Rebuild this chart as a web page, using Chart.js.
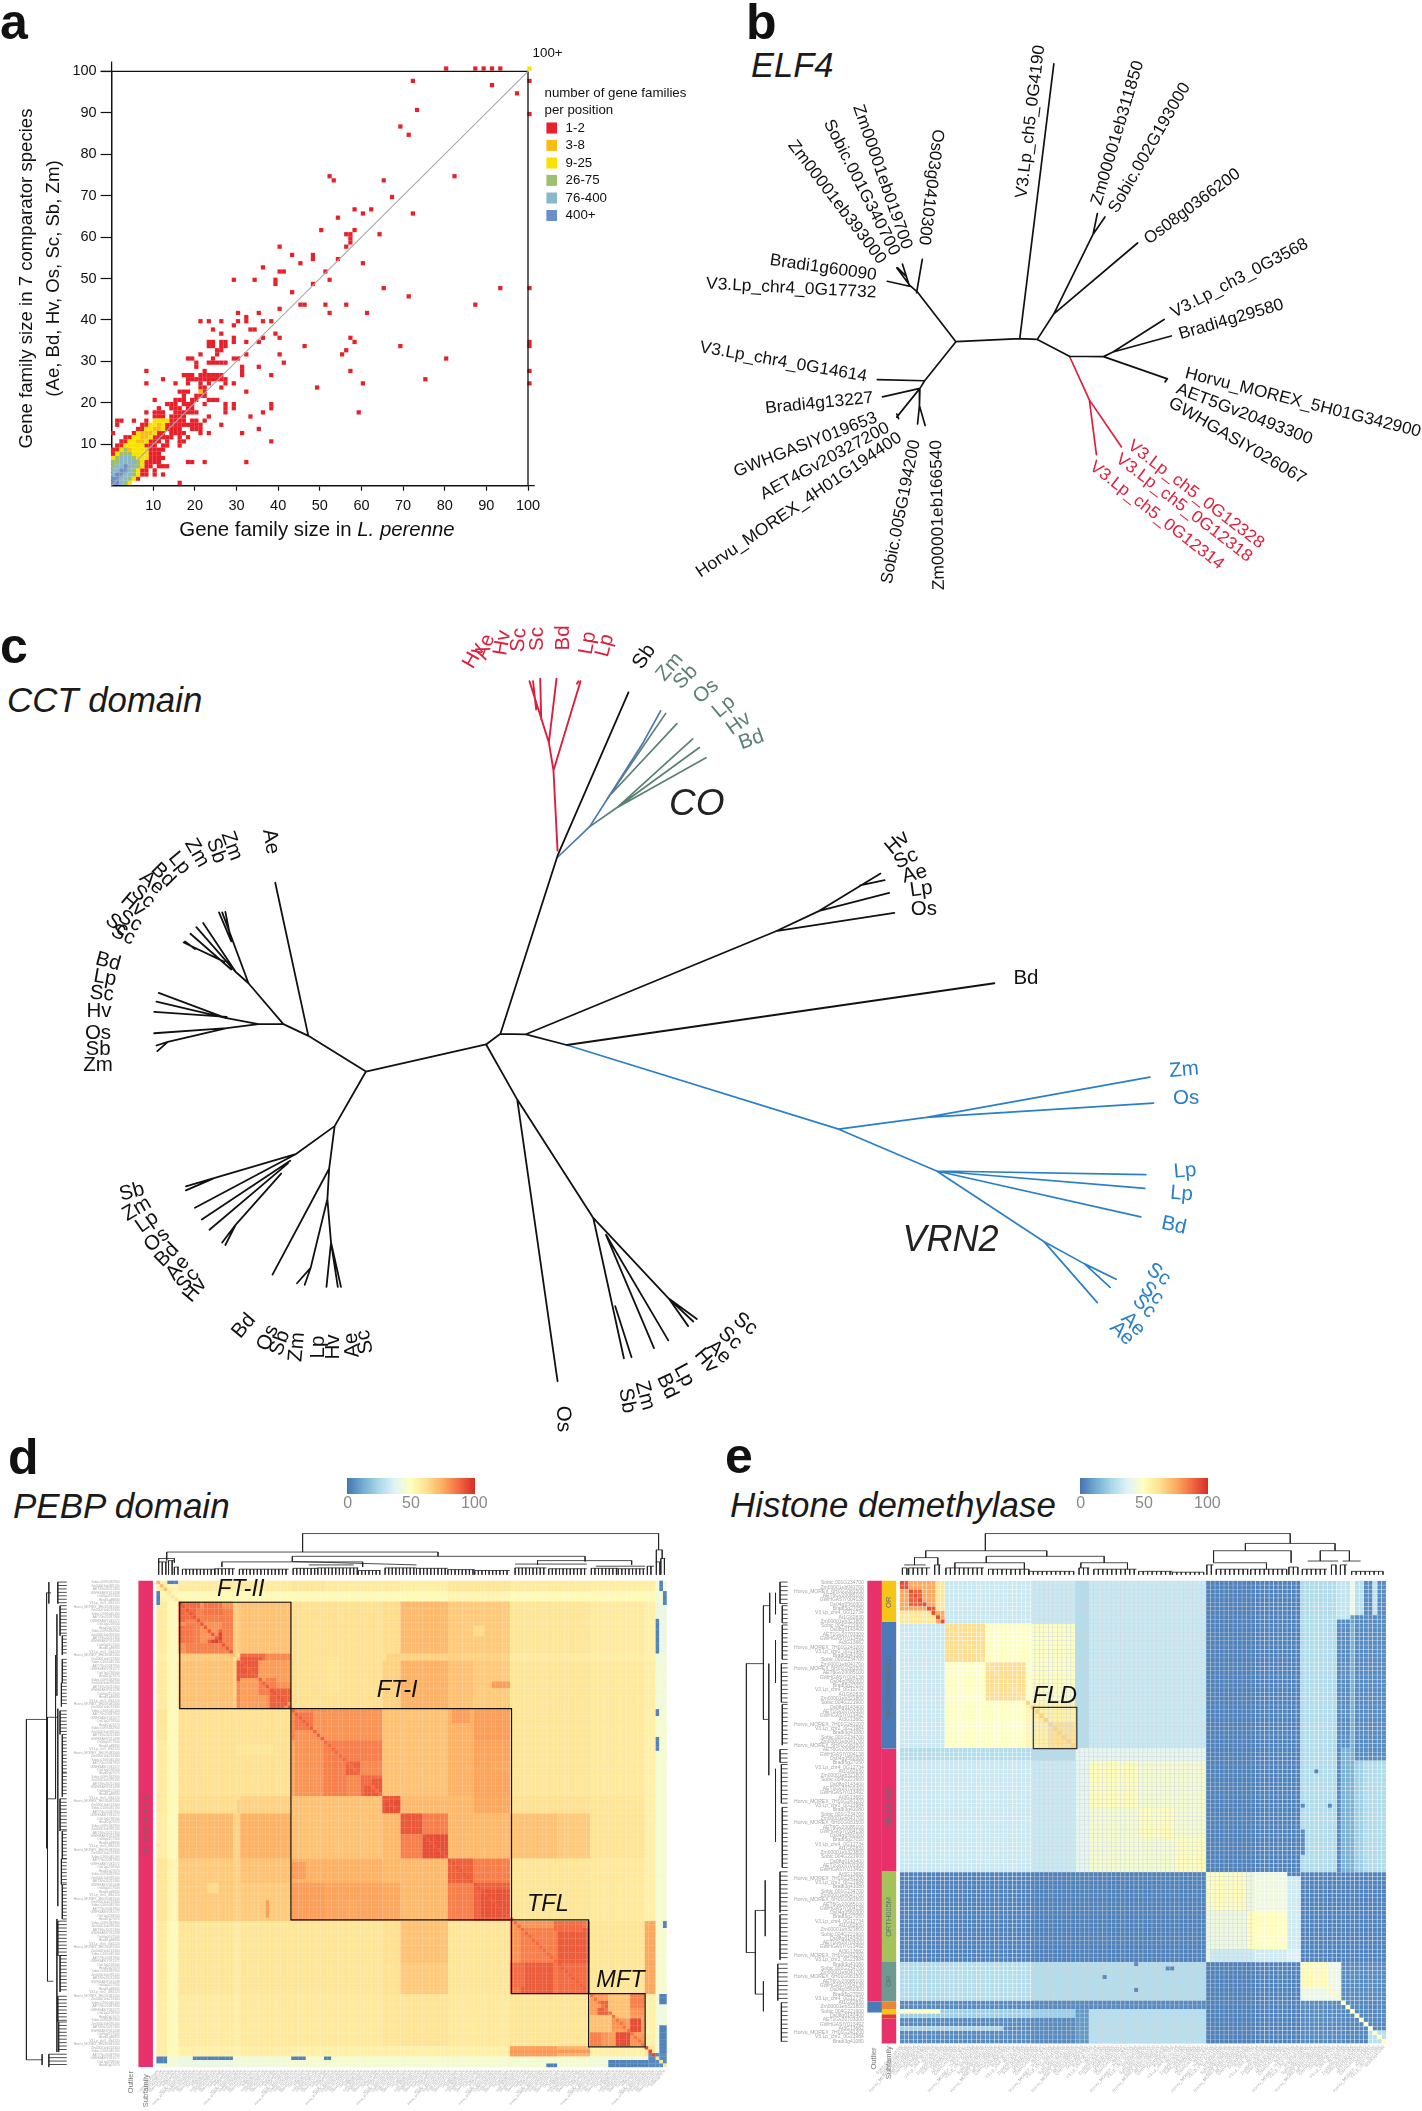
<!DOCTYPE html>
<html><head><meta charset="utf-8">
<script src="https://cdn.jsdelivr.net/npm/chart.js@4"></script>
<style>
html,body{margin:0;padding:0;background:#fff;width:1422px;height:2111px;overflow:hidden;font-family:"Liberation Sans",Arial,sans-serif}
canvas{position:absolute}
.t{position:absolute;white-space:nowrap;line-height:1;transform:translateY(-50%);color:#1a1a1a}
.i{font-style:italic}.l{font-weight:bold;color:#111}
</style></head><body>
<div class="t l" style="left:0px;top:22px;font-size:50px">a</div>
<div class="t l" style="left:746px;top:22px;font-size:50px">b</div>
<div class="t l" style="left:0px;top:646px;font-size:50px">c</div>
<div class="t l" style="left:8px;top:1457px;font-size:50px">d</div>
<div class="t l" style="left:725px;top:1456px;font-size:50px">e</div>
<div class="t i" style="left:751px;top:65px;font-size:34.5px">ELF4</div>
<div class="t i" style="left:7px;top:700px;font-size:34.8px">CCT domain</div>
<div class="t i" style="left:13px;top:1505px;font-size:35px">PEBP domain</div>
<div class="t i" style="left:730px;top:1505px;font-size:34.9px">Histone demethylase</div>
<canvas id="ca" width="720" height="600" style="left:0;top:0"></canvas>
<canvas id="cb" width="742" height="600" style="left:680px;top:0"></canvas>
<canvas id="cc" width="1422" height="830" style="left:0;top:620px"></canvas>
<canvas id="cd" width="711" height="681" style="left:0;top:1430px"></canvas>
<canvas id="ce" width="711" height="681" style="left:711px;top:1430px"></canvas>
<canvas id="cbd" width="168" height="40" style="left:327px;top:1478px"></canvas>
<canvas id="cbe" width="168" height="40" style="left:1060px;top:1478px"></canvas>
<script>
const F='"Liberation Sans",Arial,sans-serif';
/* ---------- panel a: families per position, rows [y,[x...]] ---------- */
const redCells=[[100,[80,87,89,91,93]],[97,[72,100]],[96,[91]],[94,[97]],[90,[73]],[89,[100]],[86,[69]],[84,[71]],[74,[52,82]],[73,[53,65]],[69,[67]],[66,[58,62]],[65,[60,72]],[64,[54]],[61,[50,58]],[60,[56,57,64]],[59,[57]],[58,[57]],[57,[40,56]],[55,[43,48]],[54,[48,54]],[53,[45,60]],[52,[36]],[51,[40,41,51]],[49,[29,34,39,52]],[48,[39,48]],[47,[65,93,100]],[46,[43]],[45,[71]],[43,[45,46,51,56,87]],[42,[40]],[41,[30,35,52,61]],[40,[32]],[39,[21,23,26,30,32,36,38]],[38,[29]],[37,[24,33,34]],[36,[26,39]],[35,[29,36,40,57]],[34,[23,24,26,27,29,32,35,58,100]],[33,[23,24,26,27,46,69,100]],[32,[25,26,56]],[31,[21,25,32,40,55]],[30,[18,19,24,29,30,80]],[29,[20,23,24,25,26,27,41]],[28,[20,31,35]],[27,[8,22,31,57,100]],[26,[17,18,19,21,22,23,24,25,26,31,38]],[25,[12,18,19,20,21,22,23,24,25,26,27,75]],[24,[8,15,18,21,23,27,29,60,100]],[23,[21,22,26,49]],[22,[16,17,18,22,32]],[21,[17,20,21,22]],[20,[10,15,16,17,19,20,23,24,25]],[19,[13,14,15,17,18,19,22,27,29,38]],[18,[11,14,15,16,18,19,27,29,38]],[17,[8,10,11,12,15,16,17,18,19,20,27,36,59]],[16,[10,11,12,14,15,16,17,23,33]],[15,[1,2,5,8,14,15,16,17,19,20,22]],[14,[1,7,8,13,14,15,16,17,18,19,20,21,26]],[13,[6,7,13,14,15,16,19,20,21,35]],[12,[0,5,11,12,14,15,16,17,21,23,31]],[11,[3,4,10,11,12,13,14,16,18]],[10,[2,3,9,10,11,13,16,17,38]],[9,[1,2,8,9,10,12,13,16]],[8,[0,1,9,10,11,12]],[7,[0,9,10,11]],[6,[9,10,11,12]],[5,[8,9,10,11,18,19,22,32]],[4,[8,9,11,12,13]],[3,[7,8,10]],[2,[7,8,10,12]],[1,[6]],[0,[16]]];
const orangeCells=[[14,[11]],[13,[10,11]],[12,[7,8,9]],[11,[7,8]],[10,[6,7]],[8,[4]],[22,[21]]];
const yellowCells=[[100,[100]],[15,[10,11,12,13]],[14,[9,10,12]],[13,[8,9,12]],[12,[6,10]],[11,[5,6,9]],[10,[4,5,8]],[9,[3,4,5,6,7]],[8,[2,5,6,7,8]],[7,[1,5,6,7,8]],[6,[0,6,7,8]],[5,[7]],[4,[7]],[3,[6]],[2,[6]],[1,[5]],[0,[3,4]]];
const greenCells=[[8,[3]],[7,[2,3,4]],[6,[1,5]],[5,[0,1,6]],[4,[0,6]],[3,[5]],[2,[5]],[1,[4]],[0,[3]]];
const tealCells=[[6,[2,3,4]],[5,[2,3,4,5]],[4,[1,2,4,5]],[3,[0,1,4]],[2,[0,3,4]],[1,[2,3]],[0,[2]]];
const blueCells=[[4,[3]],[3,[2,3]],[2,[1,2]],[1,[0,1]],[0,[0,1]]];
const legendLabels=['1-2','3-8','9-25','26-75','76-400','400+'];
const legendColors=['#e8202a','#f7bd14','#f7e300','#9cc070','#8bb8c8','#6c8ecb'];
const axisTicks=[10,20,30,40,50,60,70,80,90,100];

/* ---------- panel b tree: branches as [x0,y0,x1,y1] ---------- */
const elfBlack=[[583,893,718,885],[718,885,755,887],[755,887,823,931],[823,931,895,932],[583,893,503,765],[500,765,512,678],[503,765,485,745],[485,745,458,700],[485,748,470,690],[478,722,460,700],[485,748,438,735],[583,893,517,995],[517,995,417,992],[517,995,507,1015],[507,1015,428,1037],[507,1015,458,1090],[458,1082,462,1094],[507,1015,506,1060],[506,1060,502,1108],[506,1060,518,1112],[718,885,790,167],[755,887,790,820],[790,820,873,612],[873,612,882,558],[873,612,898,567],[790,820,967,635],[895,932,915,920],[915,920,1023,835],[915,920,1038,878],[895,932,1030,990],[1030,990,1018,985],[1030,990,1025,998]];
const elfRed=[[823,931,865,1045],[865,1045,880,1188],[865,1045,933,1168]];
const elfLabels=[['V3.Lp_ch5_0G4190',722,518,760,118],['Zm00001eb311850',880,535,970,160],['Sobic.002G193000',915,553,1070,220],['Os08g0366200',985,630,1180,450],['V3.Lp_ch3_0G3568',1040,820,1325,635],['Bradi4g29580',1055,875,1275,795],['Horvu_MOREX_5H01G342900',1068,975,1565,1130],['AET5Gv20493300',1050,1015,1335,1150],['GWHGASIY026067',1035,1050,1320,1255],['V3.Lp_chr4_0G17732',55,742,415,765],['Bradi1g60090',190,680,415,720],['V3.Lp_chr4_0G14614',42,908,395,985],['Bradi4g13227',180,1068,408,1040],['GWHGASIY019653',115,1235,415,1090],['AET4Gv20327200',172,1295,440,1115],['Horvu_MOREX_4H01G194400',38,1500,465,1140],['Sobic.005G194200',437,1525,497,1150],['Zm00001eb166540',548,1542,542,1150],['Zm00001eb393000',235,372,428,685],['Sobic.001G340700',312,315,455,665],['Zm00001eb019700',375,275,480,650],['Os03g0410300',545,338,515,640]];
const elfRedLabels=[['V3.Lp_ch5_0G12328',950,1160,1230,1425],['V3.Lp_ch5_0G12318',925,1195,1205,1460],['V3.Lp_ch5_0G12314',870,1215,1145,1480]];

/* ---------- panel c tree ---------- */
const cctLeft=[[807,885,1072,832],[807,885,680,815],[680,815,625,792],[680,815,607,515],[625,792,570,792],[570,792,497,780],[497,780,350,731],[497,780,345,748],[500,778,340,768],[570,792,500,800],[500,800,340,810],[500,800,370,827],[370,827,345,834],[370,827,347,845],[625,792,548,712],[548,712,490,573],[510,630,483,573],[510,630,497,572],[548,712,520,690],[520,690,448,594],[520,690,433,602],[510,685,420,615],[495,670,405,632],[430,645,408,630],[807,885,738,992],[738,992,652,1047],[652,1047,410,1110],[470,1095,410,1118],[652,1047,430,1152],[640,1060,445,1175],[635,1065,462,1195],[620,1085,520,1185],[520,1185,490,1220],[520,1185,497,1225],[738,992,726,1075],[726,1075,601,1283],[726,1075,722,1135],[722,1135,685,1270],[685,1270,655,1300],[685,1270,672,1303],[722,1135,730,1220],[730,1220,720,1307],[730,1220,745,1307],[730,1220,752,1307]];
const cctRight=[[12,832,40,811],[40,811,152,462],[152,462,291,142],[40,811,90,812],[90,812,170,833],[90,812,580,610],[580,610,665,570],[665,570,785,497],[745,520,793,510],[665,570,802,535],[580,610,812,574],[170,833,1008,712],[12,832,73,940],[73,940,152,1492],[73,940,222,1172],[222,1172,282,1447],[265,1345,297,1445],[247,1205,341,1427],[247,1205,369,1412],[222,1172,370,1330],[370,1330,408,1384],[370,1330,418,1375],[370,1330,425,1370]];
const cctRedEdges=[[152,452,144,295],[144,295,135,240],[135,240,97,120],[110,175,104,120],[120,195,118,115],[135,240,150,115],[144,295,197,120],[190,125,193,120]];
const cctSteel=[[152,465,215,405],[215,405,320,240],[320,240,354,178]];
const cctGreen=[[250,350,364,183],[258,340,386,203],[215,405,268,368],[268,368,417,233],[268,368,430,250],[268,368,443,270]];
const cctVrn=[[170,833,703,998],[703,998,875,975],[875,975,1313,896],[875,975,1320,947],[703,998,895,1080],[895,1080,1305,1087],[895,1080,1303,1114],[895,1080,1295,1170],[895,1080,1105,1218],[1105,1218,1185,1262],[1185,1262,1247,1292],[1185,1262,1235,1308],[1105,1218,1210,1338]];
const cctRedLabels=[['Hv',474,656,-60],['Ae',485,647,-70],['Hv',502.5,643,-80],['Sc',519,640,-85],['Sc',537,639,-90],['Bd',563,638,-90],['Lp',588,643,-80],['Lp',605,645.5,-75]];
const cctPageLabels=[['Zm',231.7,846,70],['Sb',216,850.7,70],['Zm',196.7,853,60],['Lp',179.3,863,50],['Bd',163,875,45],['Ae',151.7,883,40],['Sc',143,896.7,40],['Hv',133,905,40],['Sc',130,921,30],['Sc',117,925,40],['Sc',123,935,25],['Ae',270.7,841.7,80],['Bd',108,961.7,15],['Lp',105,978,10],['Sc',101.7,994,5],['Hv',99,1011,0],['Os',98,1033,0],['Sb',98,1049,0],['Zm',98,1065,0],['Sb',132,1192,-15],['Zm',137,1209,-30],['Lp',147,1222,-35],['Os',157,1240,-40],['Bd',167,1255,-45],['Ae',178,1268,-50],['Sc',188,1280,-50],['Hv',195,1290,-50],['Bd',244,1326,-50],['Os',268,1338,-65],['Sb',280,1343,-70],['Zm',297,1347,-85],['Lp',318,1347,-90],['Hv',333,1347,-90],['Ae',352,1345,-95],['Sc',365,1342,-100]];
const cctBlackLabels=[['Sb',322,72,-55],['Hv',818,437,-40],['Sc',835,468,-25],['Ae',852,498,-15],['Lp',865,528,-8],['Os',870,568,0],['Bd',1070,703,0],['Sc',520,1380,35],['Sc',490,1408,40],['Ae',468,1435,42],['Hv',443,1452,50],['Lp',400,1480,62],['Bd',367,1502,65],['Zm',323,1520,75],['Sb',288,1530,80],['Os',163,1566,88]];
const cctGreenLabels=[['Zm',372,92,-50],['Sb',403,112,-45],['Os',443,140,-40],['Lp',478,170,-40],['Hv',507,203,-35],['Bd',532,235,-20]];
const cctBlueLabels=[['Zm',1380,882,-5],['Os',1384,938,0],['Lp',1382,1080,-5],['Lp',1375,1125,5],['Bd',1360,1187,12],['Sc',1330,1283,35],['Sc',1317,1320,40],['Sc',1302,1345,45],['Ae',1280,1380,45],['Ae',1258,1398,45]];

/* ---------- colour ramp of both heat maps ---------- */
const rampStops=[[0,[69,117,180]],[12.5,[116,173,209]],[25,[171,217,233]],[37.5,[224,243,248]],[50,[255,255,191]],[62.5,[254,224,144]],[75,[253,174,97]],[87.5,[244,109,67]],[100,[215,48,39]]];
function ramp(v){for(let i=1;i<rampStops.length;i++){if(v<=rampStops[i][0]){const a=rampStops[i-1],b=rampStops[i],t=(v-a[0])/(b[0]-a[0]);return 'rgb('+a[1].map((c,k)=>Math.round(c+(b[1][k]-c)*t)).join(',')+')';}}return 'rgb(215,48,39)';}
const colorbarTicks=Array.from({length:101},(_,i)=>i);

/* ---------- panel d heat map: block edges and block identities ---------- */
const pebpEdges=[340,366,392,512,525,580,640,712,847,885,932,990,1045,1132,1232,1304,1430,1450,1478];
const pebpTable=[
[56,54,58,56,58,58,60,58,58,57,57,60,60,58,58,57,57,45],
[54,52,52,52,52,52,52,52,52,52,54,54,52,52,52,52,45],
[80,68,70,70,62,62,63,72,72,68,68,60,60,58,56,42],
[62,66,66,62,62,62,66,66,66,66,58,58,57,55,44],
[84,78,62,62,66,74,74,70,68,60,60,59,57,44],
[80,62,62,66,74,74,70,68,60,60,59,57,44],
[82,76,70,70,70,74,78,60,60,59,56,46],
[82,70,70,70,74,77,60,60,59,56,46],
[92,72,72,72,76,62,62,60,56,46],
[88,84,72,72,70,68,61,56,46],
[90,72,72,70,68,61,56,46],
[90,84,60,60,59,56,46],
[90,60,60,59,56,46],
[84,86,60,78,46],
[88,60,74,46],
[80,56,44],
[60,44],
[42]];
const pebpDiagonal=[72,60,92,70,90,92,90,88,92,92,92,92,92,88,90,86,95,60];
const pebpPatches=[[392,430,392,440,88],[430,512,405,440,84],[392,425,445,490,86],[480,505,455,490,90],[480,495,462,480,96],[435,512,490,512,84],[525,580,515,570,88],[530,575,520,560,92],[580,640,515,570,82],[525,580,570,640,78],[580,610,570,600,84],[600,640,590,625,90],[672,702,650,680,94],[650,710,650,690,86],[712,847,645,690,80],[712,847,690,740,84],[645,712,690,845,80],[712,760,745,845,84],[765,795,765,795,90],[795,847,795,845,88],[820,840,800,840,92],[850,882,850,885,94],[887,930,890,930,92],[935,985,940,990,94],[1060,1130,1060,1130,93],[1232,1304,1150,1230,91],[1132,1232,1132,1150,80],[1132,1160,1230,1290,88],[1304,1350,1304,1350,78],[1320,1350,1335,1365,90],[1350,1400,1385,1428,78],[1365,1395,1395,1425,94],[1395,1428,1305,1335,84],[1350,1395,1305,1360,70],[1045,1070,450,475,64],[720,745,520,600,60],[850,885,515,570,66],[1090,1130,580,590,78],[1000,1040,640,670,78],[1085,1130,760,790,76]];
const pebpBlue=[[366,392,342,352,3],[342,350,370,395,3],[1458,1472,342,370,3],[1450,1460,430,512,3],[1450,1462,705,740,3],[1458,1464,745,845,3],[1452,1465,640,655,3],[1470,1477,370,395,3],[1470,1477,1135,1155,3],[1460,1477,1302,1330,3],[1460,1477,1380,1440,3],[340,365,1453,1470,3],[366,392,1447,1453,3],[425,512,1447,1455,3],[640,672,1447,1458,3],[712,732,1447,1460,3],[750,845,1455,1460,3],[1210,1232,1465,1472,3],[1304,1420,1455,1460,3],[1352,1440,1462,1472,3],[1440,1478,1440,1475,5],[1436,1448,1432,1442,92],[1132,1304,1432,1445,79],[1430,1450,1135,1304,76]];
const pebpBoxes=[[392,392,640,640],[640,640,1132,1132],[1132,1132,1304,1304],[1304,1304,1430,1428]];
const pebpTop=[[666,232,1460,232],[666,232,666,275],[1460,232,1460,270],[363,275,968,275],[363,275,363,295],[968,275,968,285],[643,285,1296,285],[643,285,643,297],[1296,285,1296,297],[486,298,800,298],[486,298,486,310],[800,298,800,310],[643,297,920,305],[1140,303,1300,303],[1190,295,1400,295],[1190,295,1190,305],[1400,295,1400,305],[1320,308,1430,308],[680,305,780,305],[345,290,380,290],[345,290,345,300],[380,290,380,300],[1455,270,1468,270],[1468,270,1468,290],[1455,270,1455,300]];
const pebpTopGroups=[[345,365,298],[367,380,295],[380,390,310],[398,470,315],[470,515,314],[525,635,315],[645,700,313],[700,790,312],[790,840,318],[850,920,312],[920,990,313],[990,1050,316],[1050,1128,318],[1140,1210,312],[1215,1300,314],[1310,1370,313],[1370,1430,314],[1435,1450,308],[1455,1465,298],[1465,1475,290]];
const pebpLeft=[[50,665,50,1458],[50,665,97,665],[50,1458,85,1458],[97,660,97,1275],[97,660,120,660],[97,1275,110,1275],[95,370,95,965],[95,370,105,370],[95,965,97,965],[115,515,115,850],[98,850,115,850],[120,640,120,1100],[118,1130,118,1440],[85,1445,85,1470],[100,345,100,395],[118,420,118,610]];
const pebpLeftGroups=[[345,395,120],[400,470,125],[470,515,130],[525,580,130],[580,635,128],[645,700,125],[700,790,130],[790,845,130],[850,925,125],[925,990,130],[990,1050,128],[1050,1130,130],[1135,1215,120],[1215,1300,125],[1310,1370,120],[1370,1440,122],[1445,1475,100]];
const pebpGenes=['Sobic.009G032900','Zm00001eb391100','AET3Gv20211300','GWHGASIY011438','Os06g0157500','Bradi1g48830','V3.Lp_chr5_0G4120','Horvu_MOREX_3H01G081500','Zm00001eb213300','Sobic.010G045100','AET7Gv20347900','GWHGASIY031572','Os01g0218500','Bradi2g07070'];

/* ---------- panel e heat map ---------- */
const kdmEdgesX=[412,508,603,690,805,835,945,1020,1092,1190,1275,1305,1400,1497];
const kdmEdgesY=[342,438,533,620,733,765,870,945,1018,1115,1200,1230,1320,1420];
const kdmTable=[
[76,32,32,32,27,32,32,32,3,3,3,26,10],
[60,49,49,27,32,32,32,3,3,3,27,14],
[60,49,27,32,32,32,3,3,3,27,14],
[54,27,32,32,32,3,3,3,27,14],
[40,40,40,40,3,3,3,27,18],
[51,46,46,3,3,3,27,22],
[51,46,3,3,3,27,22],
[51,3,3,3,27,22],
[51,43,33,3,3],
[51,33,3,3],
[36,3,3],
[53,5],
[4]];
const kdmDiagonal=[94,62,62,66,40,51,51,51,51,51,36,53,50];
const kdmPatches=[[412,805,1320,1420,5],[805,1092,1320,1345,5],[805,1092,1345,1420,28],[805,835,1345,1420,8],[412,805,1345,1362,22],[412,500,1338,1348,48],[412,640,1380,1388,24],[412,432,345,365,92],[432,465,365,400,90],[470,490,405,415,92],[490,508,342,415,60],[412,490,415,438,60],[510,603,440,530,63],[603,690,535,618,63],[712,805,640,733,56],[740,805,675,733,62],[730,742,660,670,76],[1305,1400,342,1018,26],[1390,1415,430,1018,5],[1390,1415,342,430,30],[1415,1425,345,425,42],[1430,1497,342,733,5],[1425,1445,345,425,28],[1465,1480,345,425,30],[1445,1497,735,1018,26],[1395,1425,735,1018,14],[1430,1497,735,765,5],[1335,1345,785,795,3],[1305,1318,925,985,5],[1305,1318,860,870,5],[1370,1380,860,870,5],[935,945,1232,1238,5],[1000,1020,1240,1248,5],[860,870,1262,1270,5],[935,945,1295,1302,5],[1370,1400,1232,1325,42],[1305,1385,1295,1325,42],[1460,1497,1390,1420,28],[1400,1497,1230,1320,5],[1392,1415,535,570,6],[1392,1415,640,660,6],[1392,1415,700,733,6],[1092,1110,1200,1230,42],[1275,1305,1020,1030,3]];
const kdmBoxes=[[710,637,807,733]];
const kdmTop=[[603,232,1283,232],[603,232,603,272],[1283,232,1283,255],[470,272,740,272],[470,272,470,288],[740,272,740,285],[1183,255,1383,255],[1183,255,1183,272],[1383,255,1383,272],[1112,272,1285,272],[1112,272,1112,300],[1285,272,1285,300],[1350,272,1415,272],[1350,272,1350,296],[1415,272,1415,296],[1322,296,1390,296],[1400,296,1440,296],[605,285,868,285],[605,285,605,300],[868,285,868,300],[535,300,690,300],[816,300,920,300],[445,288,497,288],[422,305,470,305],[445,288,445,305],[497,288,497,305],[535,300,535,312],[690,300,690,315],[816,300,816,312],[920,300,920,315],[1112,300,1230,300],[1230,300,1230,315]];
const kdmTopGroups=[[418,428,312],[432,480,312],[490,503,305],[515,600,312],[610,700,315],[700,800,320],[812,835,312],[845,940,315],[945,1020,320],[1020,1090,322],[1097,1112,305],[1118,1190,315],[1195,1275,315],[1280,1300,310],[1310,1365,315],[1375,1385,305],[1395,1410,305],[1420,1490,320]];
const kdmLeft=[[70,535,70,1208],[70,535,108,535],[70,1208,90,1208],[108,400,108,665],[108,400,122,400],[122,370,122,440],[108,665,120,665],[120,535,120,795],[90,1110,90,1305],[90,1110,112,1110],[112,1040,112,1170],[90,1305,108,1305],[108,1275,108,1345],[135,370,135,420],[135,480,135,580],[135,780,135,950]];
const kdmLeftGroups=[[345,395,145],[400,440,150],[445,525,150],[535,625,148],[630,725,150],[735,765,145],[770,860,148],[870,1010,150],[1020,1115,145],[1120,1225,145],[1235,1320,140],[1325,1415,148]];
const kdmGenes=['Sobic.001G234700','Zm00001eb041700','Horvu_MOREX_6H01G081500','AET6Gv20085100','GWHGASIY004138','Os04g0560300','Bradi5g27050','V3.Lp_chr4_0G12734','At1G62830','Zm00001eb321800','Sobic.004G221900','Os08g0143400','AET1Gv20703300','GWHGASIY013492','At3G13682','Horvu_MOREX_7H01G241200','V3.Lp_chr2_0G21984','Bradi3g41080'];

/* ---------- helpers ---------- */
function toLine(edges){const p=[];edges.forEach(e=>{p.push({x:e[0],y:e[1]},{x:e[2],y:e[3]},{x:NaN,y:NaN});});return p;}
function lineSet(edges,color,width,extra){return Object.assign({type:'scatter',showLine:true,data:toLine(edges),borderColor:color,borderWidth:width,pointRadius:0,spanGaps:false,tension:0,borderCapStyle:'round',clip:false,order:1},extra||{});}
function hidden(min,max,rev,axis){return {type:'linear',axis:axis,display:false,min:min,max:max,reverse:!!rev};}

const textPlugin={id:'texts',afterDatasetsDraw(chart,a,opts){
 const ctx=chart.ctx;
 (opts.groups||[]).forEach(g=>{
  const xs=chart.scales[g.xAxis||'x'],ys=chart.scales[g.yAxis||'y'];
  ctx.save();
  ctx.fillStyle=g.color||'#111';
  ctx.font=(g.style?g.style+' ':'')+g.size+'px '+F;
  ctx.textAlign=g.align||'center';ctx.textBaseline='middle';
  g.items.forEach(it=>{
   ctx.save();
   if(it.length===5){
    const x0=xs.getPixelForValue(it[1]),y0=ys.getPixelForValue(it[2]),x1=xs.getPixelForValue(it[3]),y1=ys.getPixelForValue(it[4]);
    const len=Math.hypot(x1-x0,y1-y0),m=ctx.measureText(it[0]).width;
    ctx.translate((x0+x1)/2,(y0+y1)/2);ctx.rotate(Math.atan2(y1-y0,x1-x0));ctx.scale(len/m,1);
   }else{
    ctx.translate(xs.getPixelForValue(it[1]),ys.getPixelForValue(it[2]));ctx.rotate((it[3]||0)*Math.PI/180);
   }
   ctx.fillText(it[0],0,0);ctx.restore();
  });
  ctx.restore();
 });
 if(opts.extra)opts.extra(chart,ctx);
}};
Chart.register(textPlugin);
Chart.defaults.font.family=F;Chart.defaults.animation=false;Chart.defaults.responsive=false;Chart.defaults.events=[];
Chart.defaults.plugins.legend.display=false;Chart.defaults.plugins.tooltip.enabled=false;

/* ---------- a ---------- */
function cellPoints(rows){const p=[];rows.forEach(r=>r[1].forEach(i=>p.push({x:i+0.35,y:r[0]+0.7})));return p;}
function cellSet(rows,color,o){return {type:'scatter',data:cellPoints(rows),pointStyle:'rect',pointRadius:3,pointBorderWidth:0,pointBackgroundColor:color,clip:false,order:o};}
new Chart(document.getElementById('ca'),{type:'scatter',
 data:{datasets:[
  lineSet([[0,0,100,100]],'#a8a8a8',1.1,{order:0}),
  lineSet([[-2.6,100,100,100],[0,100,0,102.4],[100,100,100,0],[100,0,101.6,0]],'#111',1.3,{order:0,borderCapStyle:'butt'}),
  cellSet(yellowCells,legendColors[2],3),cellSet(orangeCells,legendColors[1],4),cellSet(greenCells,legendColors[3],2),cellSet(tealCells,legendColors[4],1.5),cellSet(blueCells,legendColors[5],1.2),cellSet(redCells,legendColors[0],5)
 ]},
 options:{layout:{padding:{top:71.4,right:192,left:0,bottom:0}},
  scales:{
   x:{type:'linear',min:0,max:100,afterFit:s=>{s.height=114.3;},grid:{drawOnChartArea:false,tickLength:5,color:'#111',tickWidth:1.2},border:{color:'#111',width:1.5},
      afterBuildTicks:s=>{s.ticks=axisTicks.map(v=>({value:v}));},ticks:{autoSkip:false,maxRotation:0,padding:7,color:'#111',font:{size:14.5}}},
   y:{type:'linear',min:0,max:100,afterFit:s=>{s.width=111.6;},grid:{drawOnChartArea:false,tickLength:11,color:'#111',tickWidth:1.2},border:{color:'#111',width:1.5},
      afterBuildTicks:s=>{s.ticks=axisTicks.map(v=>({value:v}));},ticks:{autoSkip:false,padding:4,color:'#111',font:{size:14.5}},
      title:{display:true,text:['Gene family size in 7 comparator species','(Ae, Bd, Hv, Os, Sc, Sb, Zm)'],color:'#111',font:{size:18.6,lineHeight:1.42},padding:{top:14,bottom:0}}}
  },
  plugins:{texts:{groups:[],extra(chart,ctx){
   ctx.save();ctx.fillStyle='#111';ctx.textBaseline='middle';
   const a='Gene family size in ',b='L. perenne';
   ctx.font='20.4px '+F;const wa=ctx.measureText(a).width;
   ctx.font='italic 20.4px '+F;const wb=ctx.measureText(b).width;
   const x0=317-(wa+wb)/2;ctx.textAlign='left';
   ctx.font='20.4px '+F;ctx.fillText(a,x0,530);
   ctx.font='italic 20.4px '+F;ctx.fillText(b,x0+wa,530);
   ctx.font='13.3px '+F;
   ctx.fillText('100+',532.6,53.6);
   ctx.fillText('number of gene families',544.5,93);
   ctx.fillText('per position',544.5,110.7);
   const ly=[128,145.4,163,180.4,198,215.5];
   legendLabels.forEach((l,i)=>{ctx.fillStyle=legendColors[i];ctx.fillRect(546.4,ly[i]-5.5,10.6,11);ctx.fillStyle='#111';ctx.fillText(l,565.6,ly[i]);});
   ctx.restore();
  }}}
 }});

/* ---------- b ---------- */
new Chart(document.getElementById('cb'),{type:'scatter',
 data:{datasets:[lineSet(elfBlack,'#111',1.7),lineSet(elfRed,'#e01f3d',1.7)]},
 options:{scales:{x:hidden(0,1568,false,'x'),y:hidden(0,1568,true,'y')},
  plugins:{texts:{groups:[{items:elfLabels,size:17,color:'#111'},{items:elfRedLabels,size:17,color:'#e01f3d'}]}}}});

/* ---------- c ---------- */
function L(e,c,w){return lineSet(e,c,w,{xAxisID:'xL'});}
function R(e,c,w){return lineSet(e,c,w,{xAxisID:'xR'});}
new Chart(document.getElementById('cc'),{type:'scatter',
 data:{datasets:[L(cctLeft,'#111',1.8),R(cctRight,'#111',1.8),R(cctRedEdges,'#dc1f3c',1.9),R(cctSteel,'#4a78b0',1.7),R(cctGreen,'#5a8074',1.7),R(cctVrn,'#2a80c8',1.7)]},
 options:{scales:{xL:hidden(0,3136,false,'x'),xR:hidden(-940.8,1846.3,false,'x'),y:hidden(0,1626.8,true,'y'),xPx:hidden(0,1422,false,'x'),yPx:hidden(620,1450,true,'y')},
  plugins:{texts:{groups:[
   {items:cctRedLabels,xAxis:'xPx',yAxis:'yPx',size:20.5,color:'#dc1f3c'},
   {items:cctPageLabels,xAxis:'xPx',yAxis:'yPx',size:20.5,color:'#111'},
   {items:cctBlackLabels,xAxis:'xR',size:20.5,color:'#111'},
   {items:cctGreenLabels,xAxis:'xR',size:20.5,color:'#5a8074'},
   {items:cctBlueLabels,xAxis:'xR',size:20.5,color:'#2a80c8'},
   {items:[['CO',425,362,0]],xAxis:'xR',size:37,style:'italic',color:'#222'},
   {items:[['VRN2',922,1217,0]],xAxis:'xR',size:36,style:'italic',color:'#222'}
  ]}}}});

/* ---------- d, e ---------- */
function segOf(edges,v){for(let i=1;i<edges.length;i++)if(v<edges[i])return i-1;return edges.length-2;}
function blockValue(t,i,j){return i<=j?t[i][j-i]:t[j][i-j];}
function cells(n,ex,ey,table,diag,patches,mirror){
 const x0=ex[0],x1=ex[ex.length-1],y0=ey[0],y1=ey[ey.length-1],pts=[],cols=[];
 for(let r=0;r<n;r++)for(let c=0;c<n;c++){
  const x=x0+(c+.5)*(x1-x0)/n,y=y0+(r+.5)*(y1-y0)/n,sx=segOf(ex,x),sy=segOf(ey,y);
  let v=blockValue(table,sy,sx);
  patches.forEach(p=>{if(x>=p[0]&&x<p[1]&&y>=p[2]&&y<p[3])v=p[4];else if(mirror&&y>=p[0]&&y<p[1]&&x>=p[2]&&x<p[3]&&!p[5])v=p[4];});
  if(r===c)v=diag[sx];
  pts.push({x,y});cols.push(ramp(v));
 }
 return {pts,cols};
}
function boxEdges(b){const e=[];b.forEach(r=>{e.push([r[0],r[1],r[2],r[1]],[r[2],r[1],r[2],r[3]],[r[2],r[3],r[0],r[3]],[r[0],r[3],r[0],r[1]]);});return e;}
function combTop(groups,base,step){const e=[];groups.forEach(g=>{e.push([g[0],g[2],g[1],g[2]]);for(let x=g[0];x<=g[1]+.01;x+=step)e.push([x,g[2],x,base]);});return e;}
function combLeft(groups,base,step){const e=[];groups.forEach(g=>{e.push([g[2],g[0],g[2],g[1]]);for(let y=g[0];y<=g[1]+.01;y+=step)e.push([g[2],y,base,y]);});return e;}
function rowLabels(n,y0,y1,x,names){const o=[];for(let i=0;i<n;i++)o.push([names[i%names.length],x,y0+(i+.5)*(y1-y0)/n,0]);return o;}
function colLabels(n,x0,x1,y,names){const o=[];for(let i=0;i<n;i++)o.push([names[i%names.length],x0+(i+.5)*(x1-x0)/n,y,-48]);return o;}

const patchD=pebpPatches.concat(pebpBlue.map(p=>[p[0],p[1],p[2],p[3],p[4],1]));
const nD=140,heatD=cells(nD,pebpEdges,pebpEdges.map(v=>v===340?342:v===1478?1475:v),pebpTable,pebpDiagonal,patchD,true);
new Chart(document.getElementById('cd'),{type:'scatter',
 data:{datasets:[
  lineSet(boxEdges(pebpBoxes),'#111',1.2,{order:0,borderCapStyle:'square'}),
  lineSet(pebpTop.concat(combTop(pebpTopGroups,328,8)),'#222',0.8,{order:1,borderCapStyle:'butt'}),
  lineSet(pebpLeft.concat(combLeft(pebpLeftGroups,140,8)),'#222',0.8,{order:1,borderCapStyle:'butt'}),
  lineSet([[316,342,316,1475]],'#e8306a',14.5,{order:2,borderCapStyle:'butt'}),
  {type:'scatter',data:heatD.pts,pointStyle:'rect',pointRadius:3.75/Math.SQRT2,pointBorderWidth:0,pointBackgroundColor:heatD.cols,clip:false,order:3}
 ]},
 options:{scales:{x:hidden(0,1568,false,'x'),y:hidden(0,1568,true,'y')},
  plugins:{texts:{groups:[
   {items:rowLabels(nD,342,1475,258,pebpGenes),size:3.3,color:'#a8a8a8',align:'right'},
   {items:colLabels(nD,340,1478,1483,pebpGenes),size:3.3,color:'#a5a5a5',align:'right'},
   {items:[['OS M00014131134',316,910,-90]],size:7,color:'#5e6f78'},
   {items:[['Outlier',283,1510,-90],['Subfamily',316,1530,-90]],size:7.5,color:'#777'},
   {items:[['FT-II',528,362,0],['FT-I',877,598,0],['TFL',1213,1097,0],['MFT',1375,1273,0]],size:23.5,style:'italic',color:'#111'}
  ]}}}});

const nE=108,heatE=cells(nE,kdmEdgesX,kdmEdgesY,kdmTable,kdmDiagonal,kdmPatches,false);
new Chart(document.getElementById('ce'),{type:'scatter',
 data:{datasets:[
  lineSet(boxEdges(kdmBoxes),'#333',1.2,{order:0,borderCapStyle:'square'}),
  lineSet(kdmTop.concat(combTop(kdmTopGroups,328,10)),'#222',0.8,{order:1,borderCapStyle:'butt'}),
  lineSet(kdmLeft.concat(combLeft(kdmLeftGroups,162,10)),'#222',0.8,{order:1,borderCapStyle:'butt'}),
  lineSet([[356,342,356,1322]],'#e8306a',14.5,{order:2,borderCapStyle:'butt'}),
  lineSet([[356,1322,356,1348]],'#4a7ab8',14.5,{order:2,borderCapStyle:'butt'}),
  lineSet([[388,342,388,438]],'#f5c518',14.5,{order:2,borderCapStyle:'butt'}),
  lineSet([[388,438,388,733]],'#4a7ab8',14.5,{order:2,borderCapStyle:'butt'}),
  lineSet([[388,733,388,1018]],'#e8306a',14.5,{order:2,borderCapStyle:'butt'}),
  lineSet([[388,1018,388,1230]],'#a5c25a',14.5,{order:2,borderCapStyle:'butt'}),
  lineSet([[388,1230,388,1322]],'#6f9a90',14.5,{order:2,borderCapStyle:'butt'}),
  lineSet([[388,1322,388,1340]],'#e8863a',14.5,{order:2,borderCapStyle:'butt'}),
  lineSet([[388,1340,388,1352]],'#f5c518',14.5,{order:2,borderCapStyle:'butt'}),
  lineSet([[388,1352,388,1362]],'#e03a30',14.5,{order:2,borderCapStyle:'butt'}),
  lineSet([[388,1362,388,1420]],'#e8306a',14.5,{order:2,borderCapStyle:'butt'}),
  {type:'scatter',data:heatE.pts,pointStyle:'rect',pointRadius:4/Math.SQRT2,pointBorderWidth:0,pointBackgroundColor:heatE.cols,clip:false,order:3},
  lineSet([[954.5,342,954.5,1420]],'#cdd6df',223,{order:4,borderCapStyle:'butt'})
 ]},
 options:{scales:{x:hidden(0,1568,false,'x'),y:hidden(0,1568,true,'y')},
  plugins:{texts:{groups:[
   {items:rowLabels(nE,342,1420,332,kdmGenes),size:5,color:'#a5a5a5',align:'right'},
   {items:colLabels(nE,412,1497,1426,kdmGenes),size:4.4,color:'#b0b0b0',align:'right'},
   {items:[['OR',388,392,-90],['OR111000084/FLD',388,590,-90],['OR1110035',388,870,-90],['ORTH005M',388,1125,-90],['OR',388,1275,-90]],size:7.5,color:'#5e6f78'},
   {items:[['Outlier',355,1455,-90],['Subfamily',387,1465,-90]],size:7.5,color:'#777'},
   {items:[['FLD',758,612,0]],size:23.5,style:'italic',color:'#111'}
  ]}}}});

/* ---------- colour bars ---------- */
function colorbar(id){new Chart(document.getElementById(id),{type:'bar',
 data:{labels:colorbarTicks,datasets:[{data:colorbarTicks.map(()=>1),backgroundColor:colorbarTicks.map(ramp),barPercentage:1,categoryPercentage:1,borderWidth:0}]},
 options:{layout:{padding:{left:20,right:20}},scales:{
  y:{display:false,min:0,max:1},
  x:{afterFit:s=>{s.height=24;},grid:{display:false,drawTicks:false,tickLength:0},border:{display:false},ticks:{autoSkip:false,maxRotation:0,padding:0,color:'#8a8a8a',font:{size:16},callback:(v,i)=>(i===0||i===50||i===100)?String(i):''}}
 }}});}
colorbar('cbd');colorbar('cbe');
</script>
</body></html>
